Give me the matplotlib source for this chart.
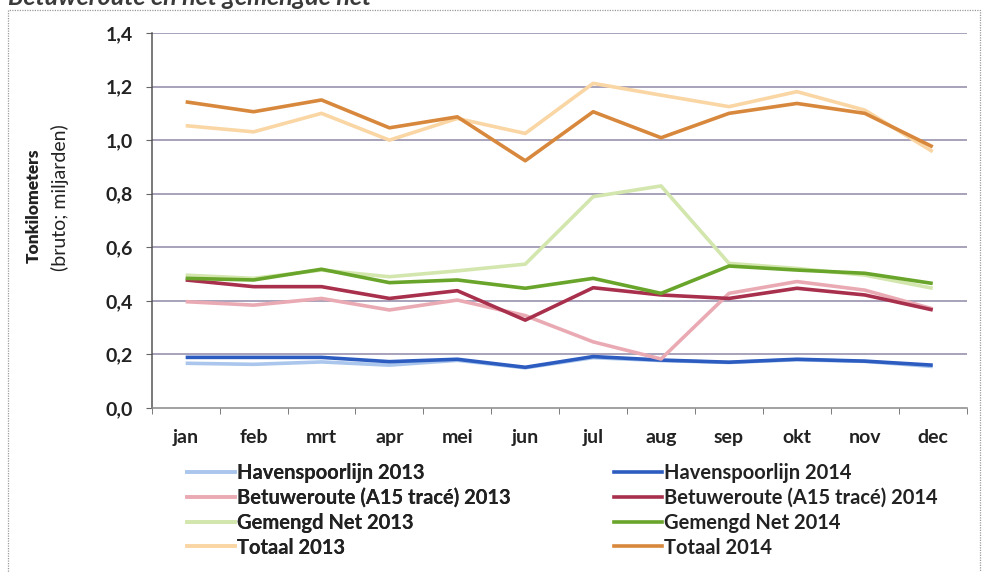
import matplotlib
matplotlib.use("Agg")
import matplotlib.pyplot as plt
from matplotlib.patches import Rectangle
from matplotlib.lines import Line2D

months = ["jan", "feb", "mrt", "apr", "mei", "jun", "jul", "aug", "sep", "okt", "nov", "dec"]

haven_2013 = [0.167, 0.163, 0.172, 0.160, 0.178, 0.150, 0.188, 0.177, 0.170, 0.180, 0.174, 0.155]
haven_2014 = [0.189, 0.189, 0.189, 0.173, 0.182, 0.152, 0.192, 0.179, 0.171, 0.182, 0.175, 0.160]
betuwe_2013 = [0.397, 0.384, 0.409, 0.366, 0.403, 0.345, 0.247, 0.183, 0.428, 0.472, 0.440, 0.370]
betuwe_2014 = [0.478, 0.453, 0.453, 0.409, 0.438, 0.328, 0.449, 0.422, 0.409, 0.447, 0.422, 0.366]
gemengd_2013 = [0.496, 0.484, 0.515, 0.490, 0.512, 0.537, 0.789, 0.829, 0.540, 0.521, 0.496, 0.447]
gemengd_2014 = [0.484, 0.478, 0.518, 0.468, 0.478, 0.447, 0.484, 0.428, 0.530, 0.515, 0.503, 0.465]
totaal_2013 = [1.054, 1.031, 1.100, 1.000, 1.081, 1.025, 1.212, 1.168, 1.125, 1.181, 1.112, 0.957]
totaal_2014 = [1.143, 1.106, 1.150, 1.046, 1.087, 0.923, 1.106, 1.009, 1.100, 1.137, 1.100, 0.975]

series = [
    ("Havenspoorlijn 2013", haven_2013, "#aac6ec"),
    ("Betuweroute (A15 tracé) 2013", betuwe_2013, "#eaaab4"),
    ("Gemengd Net 2013", gemengd_2013, "#d3e6ae"),
    ("Totaal 2013", totaal_2013, "#f9d6a4"),
    ("Havenspoorlijn 2014", haven_2014, "#2d5cc0"),
    ("Betuweroute (A15 tracé) 2014", betuwe_2014, "#a8304c"),
    ("Gemengd Net 2014", gemengd_2014, "#68a52a"),
    ("Totaal 2014", totaal_2014, "#d8883c"),
]

yticks = [0.0, 0.2, 0.4, 0.6, 0.8, 1.0, 1.2, 1.4]
ytick_labels = ["0,0", "0,2", "0,4", "0,6", "0,8", "1,0", "1,2", "1,4"]

plt.rcParams['font.family'] = ['Lato', 'DejaVu Sans']

W, H = 982, 572
fig = plt.figure(figsize=(W / 100, H / 100), dpi=100)
fig.patch.set_facecolor("white")

# dotted frame
fig.patches.append(Rectangle((8 / W, -0.02), (972) / W, (H - 10) / H + 0.02,
                             transform=fig.transFigure, fill=False,
                             edgecolor="#9a9a9a", linewidth=0.9, linestyle=(0, (1, 1))))

# partially cut title
fig.text(8 / W, 1 - 5 / H, "Betuweroute en het gemengde net", fontsize=18,
         style="italic", fontweight="bold", color="#3a3a3a", ha="left", va="baseline")

ax = fig.add_axes([151.7 / W, 1 - 408 / H, (966.7 - 151.7) / W, (408 - 33) / H])
x = list(range(len(months)))

order_draw = [0, 4, 1, 5, 2, 6, 3, 7]
for i in order_draw:
    name, vals, col = series[i]
    ax.plot(x, vals, color=col, linewidth=2.6, solid_capstyle="butt", zorder=3)

ax.set_xlim(-0.5, 11.5)
ax.set_ylim(0, 1.4)
ax.set_yticks(yticks)
ax.set_yticklabels(ytick_labels, fontsize=14, fontweight="bold", color="#222222")
ax.set_xticks(x)
ax.set_xticklabels(months, fontsize=14, fontweight="bold", color="#222222")
ax.set_xticks([i - 0.5 for i in range(13)], minor=True)
ax.tick_params(axis="x", which="major", length=0, pad=15)
ax.tick_params(axis="x", which="minor", length=4, direction="out", color="#666666")
ax.tick_params(axis="y", length=4.5, direction="out", color="#666666", pad=9)

for yv in yticks[1:]:
    ax.axhline(yv, color="#8f88a8", linewidth=1.1, zorder=1)

for s in ["top", "right"]:
    ax.spines[s].set_visible(False)
ax.spines["left"].set_color("#555555")
ax.spines["bottom"].set_color("#888888")
ax.spines["left"].set_linewidth(1.1)
ax.spines["bottom"].set_linewidth(1.1)

# y label (two lines)
fig.text(34 / W, 1 - 206 / H, "Tonkilometers", rotation=90, fontsize=12.5,
         fontweight="heavy", ha="center", va="center", color="#222222")
fig.text(60 / W, 1 - 198 / H, "(bruto; miljarden)", rotation=90, fontsize=14,
         ha="center", va="center", color="#222222")

# legends
def make_leg(idx, xpos):
    hs = [Line2D([0], [0], color=series[i][2], linewidth=2.6) for i in idx]
    labs = [series[i][0] for i in idx]
    leg = fig.legend(hs, labs, loc="upper left", bbox_to_anchor=(xpos / W, 1 - 463 / H),
                     frameon=False, handlelength=2.4, handletextpad=0.1,
                     labelspacing=0.24, borderaxespad=0, borderpad=0,
                     prop={"weight": "bold", "size": 14.5})
    for t in leg.get_texts():
        t.set_color("#222222")
    return leg

l1 = make_leg([0, 1, 2, 3], 187)
l2 = make_leg([4, 5, 6, 7], 614)
fig.add_artist(l1)

fig.savefig("out.png", dpi=100, facecolor="white")
